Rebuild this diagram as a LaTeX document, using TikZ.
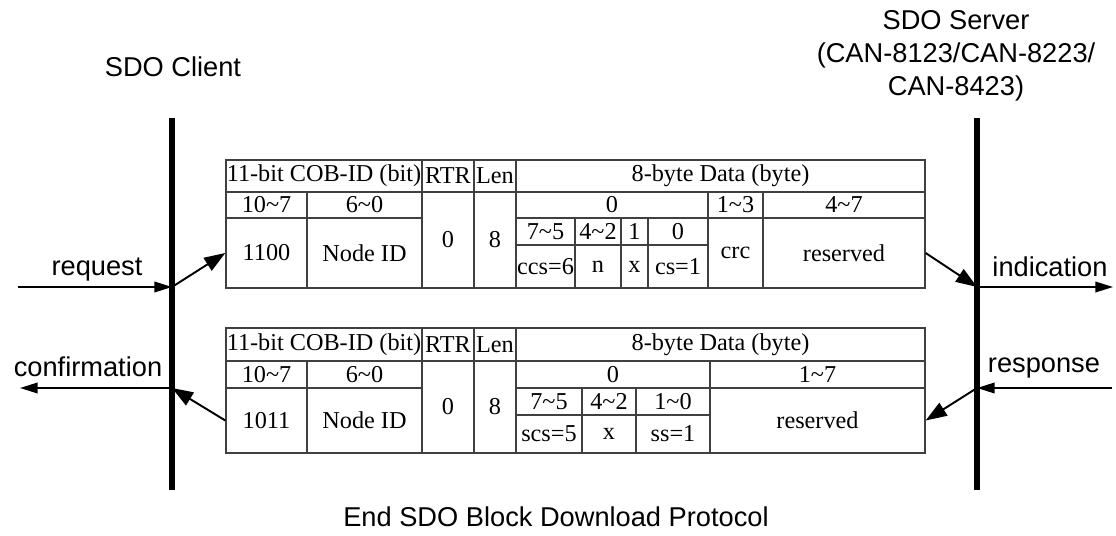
\documentclass[tikz,border=0pt]{standalone}
\usepackage{fontspec}
\setmainfont{Liberation Serif}
\setsansfont{Liberation Sans}
\usetikzlibrary{arrows.meta,fit}
\begin{document}
\begin{tikzpicture}[x=0.02cm,y=-0.02cm,
  cell/.style={draw=black!75,line width=0.75pt,inner sep=0pt},
  every label/.style={font=\fontsize{13.8}{15}\selectfont,inner sep=0pt},
  lbl/.style={font=\sffamily\fontsize{15.5}{18.8}\selectfont,anchor=base,inner sep=0pt},
  life/.style={line width=3pt},
  msg/.style={line width=1pt,-{Triangle[length=10pt,width=6pt]}},
  msgd/.style={line width=1.1pt,-{Triangle[length=12pt,width=8.5pt]}}]
\useasboundingbox (0,0) rectangle (1116,536);
\node[lbl] (client) at (173,77) {SDO Client};
\node[lbl,align=center] (server) at (956,96) {SDO Server\\(CAN-8123/CAN-8223/\\CAN-8423)};
\node[lbl] (caption) at (556,527) {End SDO Block Download Protocol};
\coordinate (cTop) at (172,118);
\coordinate (cBot) at (172,490);
\coordinate (sTop) at (977,118);
\coordinate (sBot) at (977,490);
\draw[life] (cTop) -- (cBot);
\draw[life] (sTop) -- (sBot);
\node[cell,fit={(226,160) (422,192)},label={center:11-bit COB-ID (bit)}] (cob1) {};
\node[cell,fit={(422,160) (474,192)},label={center:RTR}] (rtr1) {};
\node[cell,fit={(474,160) (516,192)},label={center:Len}] (len1) {};
\node[cell,fit={(516,160) (925,192)},label={center:8-byte Data (byte)}] (data1) {};
\node[cell,fit={(226,192) (307,218)},label={center:10\textasciitilde 7}] (hi1) {};
\node[cell,fit={(307,192) (422,218)},label={center:6\textasciitilde 0}] (lo1) {};
\node[cell,fit={(422,192) (474,288)},label={center:0}] (rtrv1) {};
\node[cell,fit={(474,192) (516,288)},label={center:8}] (lenv1) {};
\node[cell,fit={(516,192) (708,218)},label={center:0}] (byteA1) {};
\node[cell,fit={(708,192) (763,218)},label={center:1\textasciitilde 3}] (byteB1) {};
\node[cell,fit={(763,192) (925,218)},label={center:4\textasciitilde 7}] (byteC1) {};
\node[cell,fit={(226,218) (307,288)},label={center:1100}] (fn1) {};
\node[cell,fit={(307,218) (422,288)},label={center:Node ID}] (nid1) {};
\node[cell,fit={(516,218) (575,245)},label={center:7\textasciitilde 5}] (bitA1) {};
\node[cell,fit={(575,218) (621,245)},label={center:4\textasciitilde 2}] (bitB1) {};
\node[cell,fit={(621,218) (648,245)},label={center:1}] (bitC1) {};
\node[cell,fit={(648,218) (708,245)},label={center:0}] (bitD1) {};
\node[cell,fit={(516,245) (575,288)},label={center:ccs=6}] (ccs) {};
\node[cell,fit={(575,245) (621,288)},label={center:n}] (ncell) {};
\node[cell,fit={(621,245) (648,288)},label={center:x}] (xcell1) {};
\node[cell,fit={(648,245) (708,288)},label={center:cs=1}] (cs) {};
\node[cell,fit={(708,218) (763,288)},label={center:crc}] (crc) {};
\node[cell,fit={(763,218) (925,288)},label={center:reserved}] (res1) {};
\node[cell,fit={(226,328) (422,361)},label={center:11-bit COB-ID (bit)}] (cob2) {};
\node[cell,fit={(422,328) (474,361)},label={center:RTR}] (rtr2) {};
\node[cell,fit={(474,328) (516,361)},label={center:Len}] (len2) {};
\node[cell,fit={(516,328) (925,361)},label={center:8-byte Data (byte)}] (data2) {};
\node[cell,fit={(226,361) (307,388)},label={center:10\textasciitilde 7}] (hi2) {};
\node[cell,fit={(307,361) (422,388)},label={center:6\textasciitilde 0}] (lo2) {};
\node[cell,fit={(422,361) (474,453)},label={center:0}] (rtrv2) {};
\node[cell,fit={(474,361) (516,453)},label={center:8}] (lenv2) {};
\node[cell,fit={(516,361) (710,388)},label={center:0}] (byteA2) {};
\node[cell,fit={(710,361) (925,388)},label={center:1\textasciitilde 7}] (byteB2) {};
\node[cell,fit={(226,388) (307,453)},label={center:1011}] (fn2) {};
\node[cell,fit={(307,388) (422,453)},label={center:Node ID}] (nid2) {};
\node[cell,fit={(516,388) (582,415)},label={center:7\textasciitilde 5}] (bitA2) {};
\node[cell,fit={(582,388) (636,415)},label={center:4\textasciitilde 2}] (bitB2) {};
\node[cell,fit={(636,388) (710,415)},label={center:1\textasciitilde 0}] (bitC2) {};
\node[cell,fit={(516,415) (582,453)},label={center:scs=5}] (scs) {};
\node[cell,fit={(582,415) (636,453)},label={center:x}] (xcell2) {};
\node[cell,fit={(636,415) (710,453)},label={center:ss=1}] (ss) {};
\node[cell,fit={(710,388) (925,453)},label={center:reserved}] (res2) {};
\coordinate (cReq) at (172,287);
\coordinate (cConf) at (172,388);
\coordinate (sInd) at (977,287);
\coordinate (sResp) at (977,388);
\coordinate (reqIn) at (18,287);
\coordinate (confOut) at (20,388);
\coordinate (indOut) at (1113,287);
\coordinate (respIn) at (1112,388);
\draw[msg] (reqIn) -- (cReq);
\draw[msgd] (cReq) -- (fn1.west);
\draw[msgd] (res1.east) -- (sInd);
\draw[msg] (sInd) -- (indOut);
\draw[msg] (respIn) -- (sResp);
\draw[msgd] (sResp) -- (res2.east);
\draw[msgd] (fn2.west) -- (cConf);
\draw[msg] (cConf) -- (confOut);
\node[lbl] (req) at (97,276) {request};
\node[lbl] (conf) at (88,377) {confirmation};
\node[lbl] (ind) at (1050,277) {indication};
\node[lbl] (resp) at (1044,373) {response};
\end{tikzpicture}
\end{document}
